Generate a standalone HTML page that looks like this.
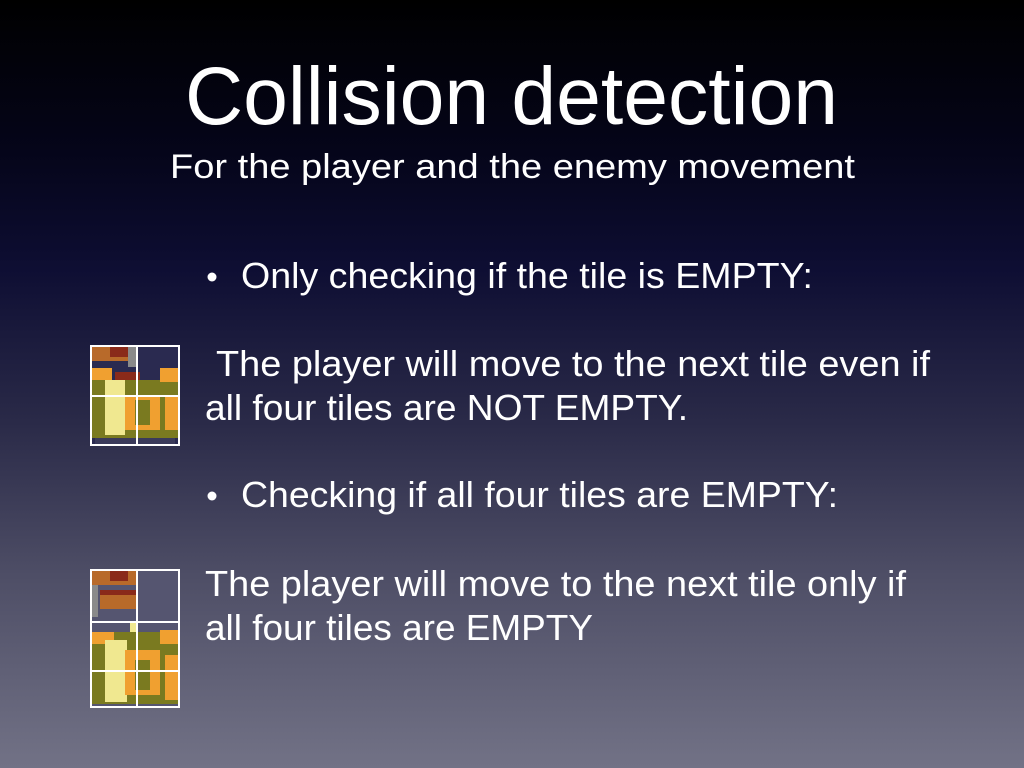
<!DOCTYPE html>
<html><head><meta charset="utf-8"><style>
html,body{margin:0;padding:0}
body{width:1024px;height:768px;overflow:hidden;background:linear-gradient(to bottom,#000 0%,#05051a 20%,#0e0e33 35%,#2a2a48 55%,#4e4e66 75%,#727286 100%);}
svg{display:block}
text{font-family:"Liberation Sans",sans-serif;fill:#fff}
</style></head><body>
<svg width="1024" height="768" viewBox="0 0 1024 768">
<text x="185" y="124" font-size="82" textLength="653" lengthAdjust="spacingAndGlyphs">Collision detection</text>
<text x="170" y="178" font-size="34" textLength="685" lengthAdjust="spacingAndGlyphs">For the player and the enemy movement</text>
<circle cx="212" cy="277" r="4.5" fill="#fff"/>
<text x="241" y="288" font-size="36" textLength="572" lengthAdjust="spacingAndGlyphs">Only checking if the tile is EMPTY:</text>
<text x="216" y="376" font-size="36" textLength="714" lengthAdjust="spacingAndGlyphs">The player will move to the next tile even if</text>
<text x="205" y="420" font-size="36" textLength="483" lengthAdjust="spacingAndGlyphs">all four tiles are NOT EMPTY.</text>
<circle cx="212" cy="496" r="4.5" fill="#fff"/>
<text x="241" y="507" font-size="36" textLength="597" lengthAdjust="spacingAndGlyphs">Checking if all four tiles are EMPTY:</text>
<text x="205" y="596" font-size="36" textLength="701" lengthAdjust="spacingAndGlyphs">The player will move to the next tile only if</text>
<text x="205" y="640" font-size="36" textLength="388" lengthAdjust="spacingAndGlyphs">all four tiles are EMPTY</text>

<!-- tile 1 -->
<g>
<rect x="90" y="345" width="90" height="101" fill="#2a2a50"/>
<rect x="92" y="347" width="45" height="14" fill="#b86a2a"/>
<rect x="110" y="347" width="18" height="10" fill="#8a2a1a"/>
<rect x="128" y="347" width="9" height="20" fill="#8a8a8a"/>
<rect x="92" y="368" width="20" height="12" fill="#f0a030"/>
<rect x="115" y="372" width="25" height="8" fill="#8a2a1a"/>
<rect x="92" y="380" width="88" height="58" fill="#7a7a20"/>
<rect x="105" y="380" width="20" height="55" fill="#f0e890"/>
<rect x="125" y="395" width="35" height="35" fill="#f0a030"/>
<rect x="135" y="400" width="15" height="25" fill="#7a7a20"/>
<rect x="160" y="368" width="18" height="14" fill="#f0a030"/>
<rect x="165" y="395" width="13" height="35" fill="#f0a030"/>
<rect x="95" y="438" width="80" height="6" fill="#3a3a5a"/>
<g stroke="#fff" stroke-width="2" fill="none"><rect x="91" y="346" width="88" height="99"/><line x1="137" y1="345" x2="137" y2="446"/><line x1="90" y1="396" x2="180" y2="396"/></g>
</g>
<!-- tile 2 -->
<g>
<rect x="90" y="569" width="90" height="139" fill="#555570"/>
<rect x="92" y="571" width="45" height="14" fill="#b86a2a"/>
<rect x="110" y="571" width="18" height="10" fill="#8a2a1a"/>
<rect x="92" y="585" width="6" height="32" fill="#8a8a8a"/>
<rect x="100" y="595" width="37" height="14" fill="#b86a2a"/>
<rect x="100" y="590" width="37" height="5" fill="#8a2a1a"/>
<rect x="130" y="622" width="6" height="25" fill="#f0e890"/>
<rect x="92" y="632" width="88" height="72" fill="#7a7a20"/>
<rect x="92" y="632" width="22" height="12" fill="#f0a030"/>
<rect x="105" y="640" width="22" height="62" fill="#f0e890"/>
<rect x="125" y="650" width="35" height="45" fill="#f0a030"/>
<rect x="135" y="660" width="15" height="30" fill="#7a7a20"/>
<rect x="160" y="630" width="18" height="14" fill="#f0a030"/>
<rect x="165" y="655" width="13" height="45" fill="#f0a030"/>
<g stroke="#fff" stroke-width="2" fill="none"><rect x="91" y="570" width="88" height="137"/><line x1="137" y1="569" x2="137" y2="708"/><line x1="90" y1="622" x2="180" y2="622"/><line x1="90" y1="671" x2="180" y2="671"/></g>
</g>
</svg>
</body></html>
